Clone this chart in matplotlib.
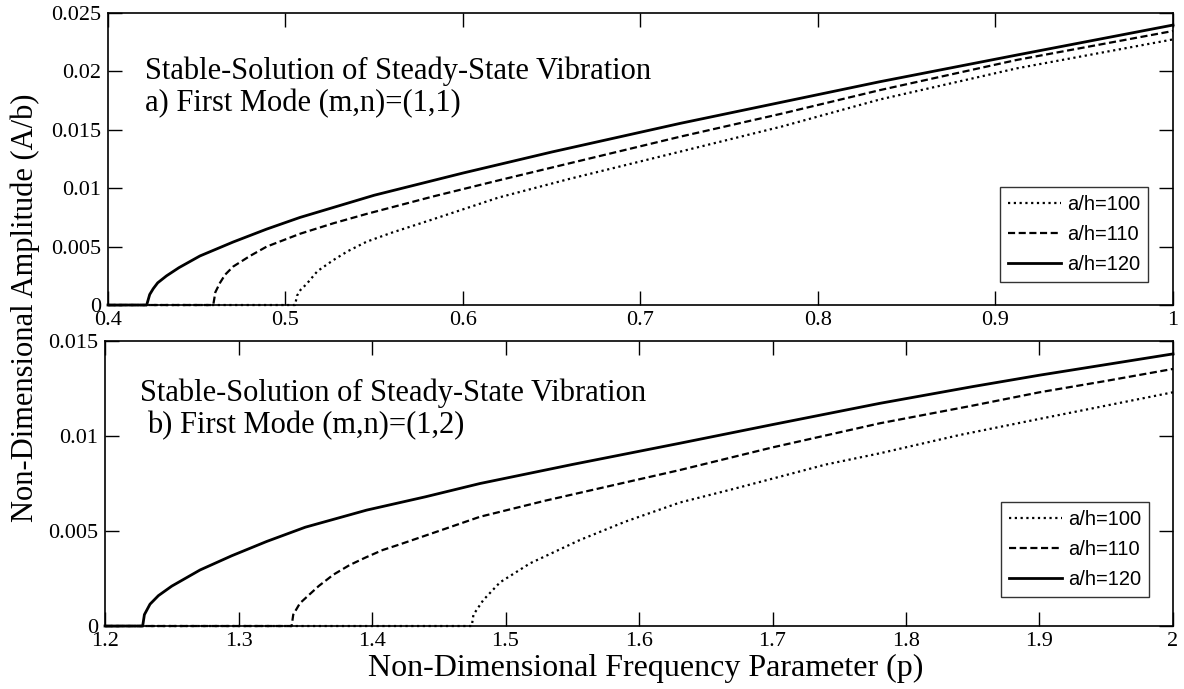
import matplotlib.pyplot as plt

plt.rcParams['font.family'] = ['Liberation Serif', 'DejaVu Serif']

# (a) mode (1,1)
pa_100 = [0.40, 0.5054, 0.5065, 0.5085, 0.5119, 0.518, 0.527, 0.535, 0.5457, 0.56, 0.5833, 0.62, 0.66, 0.7223, 0.78, 0.8349, 0.9119, 1.0]
amp_a_100 = [0, 0, 0.0008, 0.0013, 0.0018, 0.0029, 0.00385, 0.0046, 0.00542, 0.0062, 0.00735, 0.0092, 0.0108, 0.01313, 0.0153, 0.0176, 0.02026, 0.02274]
pa_110 = [0.40, 0.4593, 0.4605, 0.4631, 0.466, 0.4706, 0.48, 0.4894, 0.5082, 0.527, 0.5457, 0.5833, 0.6208, 0.7223, 0.78, 0.8349, 0.9119, 1.0]
amp_a_110 = [0, 0, 0.0011, 0.0019, 0.0026, 0.0033, 0.0042, 0.0050, 0.0061, 0.0070, 0.0078, 0.0093, 0.0107, 0.01441, 0.0164, 0.0184, 0.02098, 0.02346]
pa_120 = [0.40, 0.4218, 0.4235, 0.4255, 0.428, 0.433, 0.44, 0.4518, 0.4706, 0.4894, 0.5082, 0.55, 0.60, 0.65, 0.7223, 0.78, 0.8349, 0.9119, 1.0]
amp_a_120 = [0, 0, 0.0009, 0.0014, 0.0019, 0.0025, 0.0032, 0.0042, 0.0054, 0.0065, 0.0075, 0.0094, 0.0113, 0.0131, 0.01555, 0.01738, 0.01912, 0.0214, 0.02397]

# (b) mode (1,2)
pb_100 = [1.2, 1.4747, 1.476, 1.4834, 1.4959, 1.5184, 1.5558, 1.59, 1.6307, 1.67, 1.7056, 1.74, 1.7805, 1.84, 1.9, 2.0]
amp_b_100 = [0, 0, 0.0006, 0.00137, 0.0023, 0.0033, 0.00453, 0.0055, 0.0065, 0.0072, 0.00786, 0.0085, 0.00909, 0.01005, 0.0109, 0.0123]
pb_110 = [1.2, 1.3398, 1.341, 1.346, 1.36, 1.371, 1.383, 1.395, 1.408, 1.421, 1.45, 1.4809, 1.53, 1.58, 1.6307, 1.7, 1.7805, 1.85, 1.9, 1.95, 2.0]
amp_b_110 = [0, 0, 0.0006, 0.0012, 0.0021, 0.0027, 0.0032, 0.0036, 0.0040, 0.0043, 0.0050, 0.00575, 0.0066, 0.0074, 0.00821, 0.0094, 0.01067, 0.0116, 0.0123, 0.0129, 0.01353]
pb_120 = [1.2, 1.2282, 1.2295, 1.2337, 1.24, 1.25, 1.2712, 1.295, 1.3211, 1.35, 1.396, 1.44, 1.4809, 1.55, 1.6307, 1.7, 1.7805, 1.85, 1.9, 2.0]
amp_b_120 = [0, 0, 0.0006, 0.00115, 0.0016, 0.0021, 0.00295, 0.0037, 0.00445, 0.0052, 0.0061, 0.0068, 0.0075, 0.0085, 0.00962, 0.0106, 0.01172, 0.0126, 0.0132, 0.01432]

labels = ['a/h=100', 'a/h=110', 'a/h=120']
styles = [dict(ls=(0, (1, 1.6)), lw=1.6), dict(ls=(0, (3.2, 1.6)), lw=1.6), dict(ls='-', lw=2.0)]

fig = plt.figure(figsize=(11.84, 6.89), dpi=100)
ax1 = fig.add_axes([0.0912, 0.5573, 0.8995, 0.4238])
ax2 = fig.add_axes([0.0887, 0.0914, 0.9020, 0.4137])

panels = [
  (ax1, [(pa_100, amp_a_100), (pa_110, amp_a_110), (pa_120, amp_a_120)],
   (0.4, 1.0), (0, 0.025), [0.4, 0.5, 0.6, 0.7, 0.8, 0.9, 1.0], [0, 0.005, 0.01, 0.015, 0.02, 0.025],
   ['0.4', '0.5', '0.6', '0.7', '0.8', '0.9', '1'], ['0', '0.005', '0.01', '0.015', '0.02', '0.025'],
   [(0.0347, 0.774, 'Stable-Solution of Steady-State Vibration'), (0.0347, 0.662, 'a) First Mode (m,n)=(1,1)')],
   (0.9765, 0.079)),
  (ax2, [(pb_100, amp_b_100), (pb_110, amp_b_110), (pb_120, amp_b_120)],
   (1.2, 2.0), (0, 0.015), [1.2, 1.3, 1.4, 1.5, 1.6, 1.7, 1.8, 1.9, 2.0], [0, 0.005, 0.01, 0.015],
   ['1.2', '1.3', '1.4', '1.5', '1.6', '1.7', '1.8', '1.9', '2'], ['0', '0.005', '0.01', '0.015'],
   [(0.0328, 0.79, 'Stable-Solution of Steady-State Vibration'), (0.039, 0.676, 'b) First Mode (m,n)=(1,2)')],
   (0.9775, 0.102)),
]

for ax, series, xl, yl, xt, yt, xtl, ytl, notes, leg_at in panels:
  for (x, y), lab, st in zip(series, labels, styles):
    ax.plot(x, y, color='black', label=lab, clip_on=False, **st)
  ax.set_xlim(*xl)
  ax.set_ylim(*yl)
  ax.set_xticks(xt)
  ax.set_xticklabels(xtl)
  ax.set_yticks(yt)
  ax.set_yticklabels(ytl)
  ax.tick_params(direction='in', length=10, width=1, top=True, right=True, labelsize=16)
  ax.tick_params(axis='x', pad=4)
  ax.tick_params(axis='y', pad=5)
  for s in ax.spines.values():
    s.set_linewidth(1.2)
  for tx, ty, s in notes:
    ax.text(tx, ty, s, transform=ax.transAxes, fontsize=22, va='baseline')
  leg = ax.legend(loc='lower right', bbox_to_anchor=leg_at, borderaxespad=0,
                  prop={'family': 'Liberation Sans', 'size': 14.5},
                  fancybox=False, edgecolor='black', handlelength=2.6, labelspacing=0.55,
                  borderpad=0.4, handletextpad=0.3)
  leg.get_frame().set_linewidth(1.0)

fig.text(0.021, 0.553, 'Non-Dimensional Amplitude (A/b)', rotation=90, fontsize=22, va='center', ha='center')
fig.text(0.545, 0.030, 'Non-Dimensional Frequency Parameter (p)', fontsize=23, va='center', ha='center')

fig.savefig('out.png', dpi=100)
